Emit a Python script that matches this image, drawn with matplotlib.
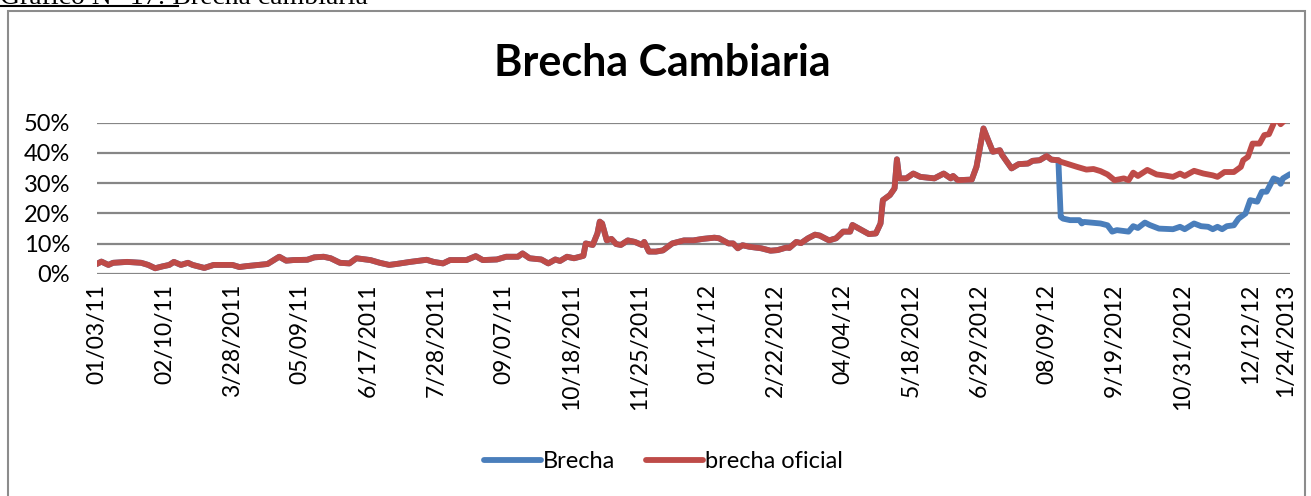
import matplotlib.pyplot as plt
from matplotlib.patches import Rectangle
from matplotlib.lines import Line2D

# tramo comun (indice de rueda, valor en %)
dia_comun = [0, 2, 5, 7, 13, 19, 22, 25, 28, 31, 33, 36, 39, 41, 46, 50, 58, 61, 64, 73,
             78, 81, 84, 90, 93, 97, 100, 104, 108, 111, 117, 121, 125, 128, 134, 141, 144,
             148, 151, 158, 162, 165, 171, 175, 180, 182, 185, 190, 193, 196, 198, 201, 204,
             208, 209, 212, 214, 215, 216, 218, 220, 222, 224, 227, 230, 233, 234, 236, 239,
             242, 246, 251, 255, 259, 264, 266, 270, 272, 274, 276, 279, 284, 288, 291, 295,
             296, 299, 301, 304, 307, 309, 313, 316, 319, 322, 323, 327, 330, 333, 335, 336,
             339, 341, 342, 343, 346, 349, 352, 358, 362, 365, 366, 368, 374, 376, 379, 381,
             383, 386, 387, 391, 394, 398, 400, 403, 406, 408, 411]
val_comun = [3.3, 4.1, 3.0, 3.7, 4.0, 3.7, 3.0, 1.9, 2.5, 3.0, 4.0, 3.0, 3.7, 3.0, 2.0, 3.0,
             3.0, 2.3, 2.6, 3.3, 5.7, 4.4, 4.6, 4.7, 5.5, 5.7, 5.2, 3.7, 3.5, 5.2, 4.6, 3.7,
             3.0, 3.3, 4.0, 4.7, 4.0, 3.5, 4.6, 4.6, 5.9, 4.6, 4.8, 5.7, 5.7, 6.8, 5.2, 4.8,
             3.5, 4.8, 4.3, 5.7, 5.2, 6.0, 10.1, 9.6, 13.4, 17.3, 16.7, 11.1, 11.6, 9.9, 9.6,
             11.1, 10.6, 9.6, 10.6, 7.4, 7.4, 7.8, 10.1, 11.1, 11.1, 11.6, 12.0, 11.8, 10.1,
             10.1, 8.5, 9.5, 9.0, 8.5, 7.7, 7.9, 8.8, 8.6, 10.6, 10.2, 11.8, 13.0, 12.7, 11.1,
             11.8, 14.0, 14.0, 16.2, 14.5, 13.2, 13.4, 16.7, 24.4, 26.1, 28.3, 37.9, 31.6,
             31.6, 33.2, 32.1, 31.6, 33.2, 31.6, 32.4, 31.0, 31.2, 35.4, 48.1, 44.2, 40.4,
             40.9, 39.3, 34.9, 36.3, 36.5, 37.4, 37.6, 39.0, 37.8, 37.6]

# desde agosto 2012
dia_brecha = [412, 413, 416, 420, 421, 422, 429, 432, 434, 436, 441, 443, 445, 448, 450, 454,
              460, 463, 465, 469, 472, 475, 477, 479, 481, 483, 486, 488, 491, 493, 496, 498,
              500, 503, 505, 506, 507, 510]
val_brecha = [18.9, 18.3, 17.8, 17.8, 16.7, 17.2, 16.7, 16.1, 14.0, 14.5, 14.0, 15.8, 15.2,
              17.0, 16.2, 15.0, 14.8, 15.6, 14.8, 16.7, 15.8, 15.6, 14.8, 15.6, 14.8, 15.8,
              16.1, 18.3, 20.0, 24.4, 23.9, 27.2, 27.2, 31.6, 31.0, 29.8, 31.6, 33.0]

dia_oficial = [412, 419, 423, 426, 429, 432, 435, 439, 441, 443, 445, 449, 453, 456, 460, 463,
               465, 469, 473, 477, 479, 482, 486, 489, 490, 492, 494, 497, 499, 501, 503, 504,
               506, 508]
val_oficial = [37.1, 35.4, 34.5, 34.7, 34.0, 32.9, 31.0, 31.6, 31.0, 33.5, 32.4, 34.4, 32.9,
               32.6, 32.1, 33.2, 32.4, 34.1, 33.2, 32.6, 32.1, 33.7, 33.7, 35.4, 37.6, 38.7,
               43.1, 43.1, 45.9, 46.2, 49.7, 52.0, 49.5, 51.0]

etiquetas = ['01/03/11', '02/10/11', '3/28/2011', '05/09/11', '6/17/2011', '7/28/2011',
             '09/07/11', '10/18/2011', '11/25/2011', '01/11/12', '2/22/2012', '04/04/12',
             '5/18/2012', '6/29/2012', '08/09/12', '9/19/2012', '10/31/2012', '12/12/12',
             '1/24/2013']

azul = '#4A7EBB'
rojo = '#BE4B48'
gris = '#868686'

plt.rcParams['font.family'] = ['Lato', 'DejaVu Sans']

fig = plt.figure(figsize=(13.11, 4.96), dpi=100)
ax = fig.add_axes([96.7 / 1311, 1 - 274 / 496, (1290 - 96.7) / 1311, (274 - 122.7) / 496])

x_b = dia_comun + dia_brecha
y_b = [v / 100 for v in val_comun + val_brecha]
x_o = dia_comun + dia_oficial
y_o = [v / 100 for v in val_comun + val_oficial]
ax.plot(x_b, y_b, color=azul, lw=4.2, solid_capstyle='round', label='Brecha')
ax.plot(x_o, y_o, color=rojo, lw=4.2, solid_capstyle='round', label='brecha oficial')

ax.set_xlim(0, 510)
ax.set_ylim(0, 0.5)
ax.set_yticks([0, 0.1, 0.2, 0.3, 0.4, 0.5])
ax.set_yticklabels(['0%', '10%', '20%', '30%', '40%', '50%'], fontsize=17)
ticks = list(range(0, 29 * 18, 29)) + [508]
ax.set_xticks(ticks)
ax.set_xticklabels(etiquetas, rotation=90, fontsize=16.5)
ax.tick_params(length=0)
ax.tick_params(axis='x', pad=7)
ax.tick_params(axis='y', pad=19)
ax.grid(axis='y', color=gris, lw=1.6)
ax.set_axisbelow(True)
for s in ax.spines.values():
    s.set_visible(False)

fig.text(0.505, 1 - 63 / 496, 'Brecha Cambiaria', ha='center', va='center',
         fontsize=31, fontweight='bold')

fig.legend(loc='center', bbox_to_anchor=(0.506, 1 - 462 / 496), ncol=2, frameon=False,
           fontsize=17, handlelength=2.4, handletextpad=0.1, columnspacing=1.3)

# marco del grafico y titulo del documento
fig.patches.append(Rectangle((8 / 1311, -0.02), (1305 - 8) / 1311, 1.02 - 11 / 496,
                             transform=fig.transFigure, fill=False, edgecolor='#8C8C8C', lw=1.5))
fig.text(0.0, 1 - 4 / 496, 'Gráfico N° 17: Brecha cambiaria', family='Liberation Serif',
         fontsize=20, va='baseline', ha='left')
fig.lines.append(Line2D([0.0, 178 / 1311], [1 - 6 / 496, 1 - 6 / 496], transform=fig.transFigure,
                        color='black', lw=1.5))

fig.savefig('out.png', dpi=100)
